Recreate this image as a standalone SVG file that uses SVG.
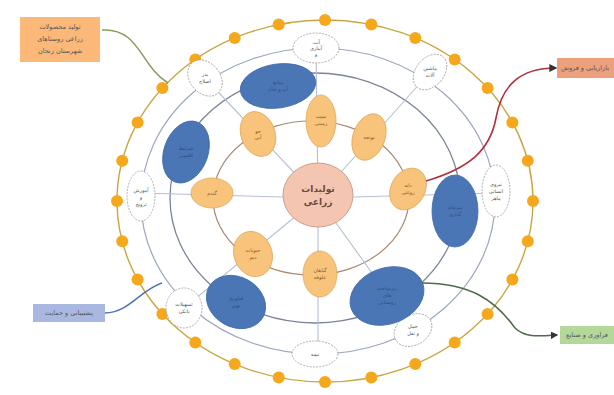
<svg xmlns="http://www.w3.org/2000/svg" width="614" height="395" viewBox="0 0 614 395">
<style>
text{font-family:"DejaVu Sans",sans-serif;text-anchor:middle;direction:rtl}
.ring{fill:none}
.spoke{stroke:#b3bfd4;stroke-width:1.1;fill:none}
.dot{fill:#f6a81c}
.yel ellipse{fill:#f8c37a;stroke:#e3a85c;stroke-width:0.8}
.yel text{font-size:5px;fill:#8a5a2a}
.blu ellipse{fill:#4b76b6;stroke:#3f6aa8;stroke-width:0.8}
.blu text{font-size:5px;fill:#2d4d80}
.wht ellipse{fill:#fff;stroke:#9a9a9a;stroke-width:0.8;stroke-dasharray:2 1.2}
.wht text{font-size:5px;fill:#555}
.box text{font-size:6.5px;fill:#555}
</style>
<defs>
<marker id="ah" viewBox="0 0 6 6" refX="5" refY="3" markerWidth="5" markerHeight="5" orient="auto"><path d="M0,0 L6,3 L0,6 z" fill="#333"/></marker>
</defs>
<rect width="614" height="395" fill="#fff"/>
<!-- rings -->
<ellipse class="ring" cx="325" cy="201" rx="208" ry="181" stroke="#c9a640" stroke-width="1.4"/>
<ellipse class="ring" cx="318" cy="201" rx="177" ry="153" stroke="#9aa6c4" stroke-width="1.2"/>
<ellipse class="ring" cx="315" cy="198" rx="145" ry="125" stroke="#7b8499" stroke-width="1.3"/>
<ellipse class="ring" cx="311" cy="198" rx="98" ry="77" stroke="#a88a70" stroke-width="1.2"/>
<g id="connectors">
<line class="spoke" x1="318" y1="198" x2="316" y2="48"/>
<line class="spoke" x1="318" y1="198" x2="430" y2="72"/>
<line class="spoke" x1="318" y1="198" x2="496" y2="193"/>
<line class="spoke" x1="318" y1="198" x2="413" y2="330"/>
<line class="spoke" x1="318" y1="198" x2="318" y2="354"/>
<line class="spoke" x1="318" y1="198" x2="184" y2="308"/>
<line class="spoke" x1="318" y1="198" x2="141" y2="193"/>
<line class="spoke" x1="318" y1="198" x2="205" y2="78"/>
</g>
<g id="dots">
<circle class="dot" cx="533" cy="201" r="6"/><circle class="dot" cx="527.8" cy="241.3" r="6"/><circle class="dot" cx="512.4" cy="279.5" r="6"/><circle class="dot" cx="487.6" cy="313.9" r="6"/><circle class="dot" cx="454.7" cy="342.5" r="6"/><circle class="dot" cx="415.3" cy="364.1" r="6"/><circle class="dot" cx="371.3" cy="377.5" r="6"/><circle class="dot" cx="325" cy="382" r="6"/>
<circle class="dot" cx="278.7" cy="377.5" r="6"/><circle class="dot" cx="234.7" cy="364.1" r="6"/><circle class="dot" cx="195.3" cy="342.5" r="6"/><circle class="dot" cx="162.4" cy="313.9" r="6"/><circle class="dot" cx="137.6" cy="279.5" r="6"/><circle class="dot" cx="122.2" cy="241.3" r="6"/><circle class="dot" cx="117" cy="201" r="6"/>
<circle class="dot" cx="122.2" cy="160.7" r="6"/><circle class="dot" cx="137.6" cy="122.5" r="6"/><circle class="dot" cx="162.4" cy="88.1" r="6"/><circle class="dot" cx="195.3" cy="59.5" r="6"/><circle class="dot" cx="234.7" cy="37.9" r="6"/><circle class="dot" cx="278.7" cy="24.5" r="6"/><circle class="dot" cx="325" cy="20" r="6"/>
<circle class="dot" cx="371.3" cy="24.5" r="6"/><circle class="dot" cx="415.3" cy="37.9" r="6"/><circle class="dot" cx="454.7" cy="59.5" r="6"/><circle class="dot" cx="487.6" cy="88.1" r="6"/><circle class="dot" cx="512.4" cy="122.5" r="6"/><circle class="dot" cx="527.8" cy="160.7" r="6"/>
</g>
<!-- white nodes -->
<g id="w-top" class="wht"><ellipse cx="316" cy="48" rx="23" ry="15"/><text x="316" y="44">آب،</text><text x="316" y="50">آبیاری</text><text x="316" y="56">و</text></g>
<g id="w-topright" class="wht"><ellipse cx="430" cy="72" rx="14" ry="20" transform="rotate(40 430 72)"/><text x="430" y="70">ماشین</text><text x="430" y="77">آلات</text></g>
<g id="w-right" class="wht"><ellipse cx="496" cy="191" rx="14" ry="26"/><text x="496" y="186">نیروی</text><text x="496" y="193">انسانی</text><text x="496" y="200">ماهر</text></g>
<g id="w-botright" class="wht"><ellipse cx="413" cy="330" rx="20" ry="15" transform="rotate(-30 413 330)"/><text x="413" y="328">حمل</text><text x="413" y="335">و نقل</text></g>
<g id="w-bottom" class="wht"><ellipse cx="315" cy="354" rx="23" ry="13"/><text x="315" y="356">بیمه</text></g>
<g id="w-botleft" class="wht"><ellipse cx="184" cy="308" rx="18" ry="20"/><text x="184" y="306">تسهیلات</text><text x="184" y="313">بانکی</text></g>
<g id="w-left" class="wht"><ellipse cx="141" cy="196" rx="14" ry="25"/><text x="141" y="192">آموزش</text><text x="141" y="199">و</text><text x="141" y="206">ترویج</text></g>
<g id="w-topleft" class="wht"><ellipse cx="205" cy="78" rx="15" ry="20" transform="rotate(-40 205 78)"/><text x="205" y="76">بذر</text><text x="205" y="83">اصلاح</text></g>
<!-- blue nodes -->
<g id="b-top" class="blu"><ellipse cx="278" cy="86" rx="38" ry="22" transform="rotate(-8 278 86)"/><text x="278" y="84">منابع</text><text x="278" y="91">آب و خاک</text></g>
<g id="b-left" class="blu"><ellipse cx="186" cy="152" rx="22" ry="32" transform="rotate(20 186 152)"/><text x="186" y="150">شرایط</text><text x="186" y="157">اقلیمی</text></g>
<g id="b-right" class="blu"><ellipse cx="455" cy="211" rx="23" ry="36"/><text x="455" y="209">سرمایه</text><text x="455" y="216">گذاری</text></g>
<g id="b-botleft" class="blu"><ellipse cx="236" cy="302" rx="31" ry="25" transform="rotate(30 236 302)"/><text x="236" y="300">فناوری</text><text x="236" y="307">نوین</text></g>
<g id="b-botright" class="blu"><ellipse cx="387" cy="296" rx="38" ry="28" transform="rotate(-20 387 296)"/><text x="387" y="290">زیرساخت</text><text x="387" y="297">های</text><text x="387" y="304">روستایی</text></g>
<!-- yellow nodes -->
<g id="y-left" class="yel"><ellipse cx="212" cy="193" rx="21" ry="15"/><text x="212" y="195">گندم</text></g>
<g id="y-upleft" class="yel"><ellipse cx="258" cy="134" rx="17" ry="23" transform="rotate(-20 258 134)"/><text x="258" y="133">جو</text><text x="258" y="139">آبی</text></g>
<g id="y-top" class="yel"><ellipse cx="321" cy="121" rx="15" ry="26"/><text x="321" y="118">سیب</text><text x="321" y="125">زمینی</text></g>
<g id="y-upright" class="yel"><ellipse cx="369" cy="137" rx="16" ry="24" transform="rotate(20 369 137)"/><text x="369" y="139">یونجه</text></g>
<g id="y-right" class="yel"><ellipse cx="408" cy="189" rx="17" ry="22" transform="rotate(30 408 189)"/><text x="408" y="187">دانه</text><text x="408" y="194">روغنی</text></g>
<g id="y-lowleft" class="yel"><ellipse cx="253" cy="254" rx="19" ry="23" transform="rotate(-20 253 254)"/><text x="253" y="252">حبوبات</text><text x="253" y="259">دیم</text></g>
<g id="y-low" class="yel"><ellipse cx="320" cy="274" rx="17" ry="23"/><text x="320" y="272">گیاهان</text><text x="320" y="279">علوفه</text></g>
<!-- center -->
<g id="center"><ellipse cx="318" cy="195" rx="35" ry="32" fill="#f4c6b2" stroke="#c9a090" stroke-width="1"/><text x="318" y="192" font-size="9" font-weight="bold" fill="#6b4a3a">تولیدات</text><text x="318" y="205" font-size="9" font-weight="bold" fill="#6b4a3a">زراعی</text></g>
<!-- box connectors -->
<g id="box-connectors" fill="none">
<path d="M102,30 C140,28 140,66 168,83" stroke="#8b9a5c" stroke-width="1.5"/>
<path d="M426,181 C470,168 490,150 496,118 C502,85 520,68 556,68" stroke="#b0303c" stroke-width="1.6" marker-end="url(#ah)"/>
<path d="M105,313 C130,312 140,290 162,283" stroke="#4b76b6" stroke-width="1.5"/>
<path d="M422,283 C470,283 495,300 515,328 C525,338 540,336 557,335" stroke="#4f6b48" stroke-width="1.5" marker-end="url(#ah)"/>
</g>
<!-- side boxes -->
<g id="box-topleft" class="box"><rect x="20" y="17" width="80" height="45" fill="#fbb878"/><text x="60" y="29">تولید محصولات</text><text x="60" y="41">زراعی روستاهای</text><text x="60" y="53">شهرستان زنجان</text></g>
<g id="box-topright" class="box"><rect x="557" y="58" width="57" height="20" fill="#eca07c"/><text x="585" y="70">بازاریابی و فروش</text></g>
<g id="box-botleft" class="box"><rect x="33" y="304" width="72" height="18" fill="#a8b8e0"/><text x="69" y="315">پشتیبانی و حمایت</text></g>
<g id="box-botright" class="box"><rect x="560" y="326" width="54" height="18" fill="#b4d89a"/><text x="587" y="337">فراوری و صنایع</text></g>
</svg>
